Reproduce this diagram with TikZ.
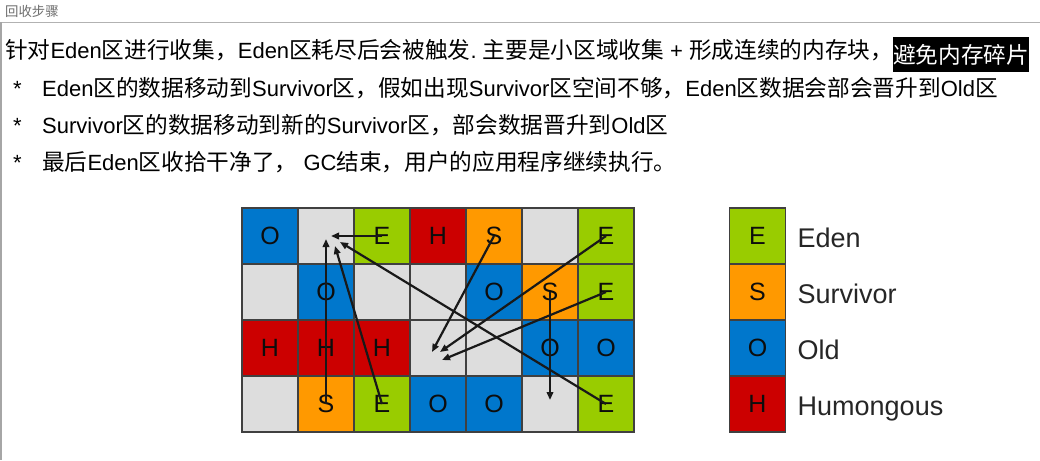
\documentclass[tikz,border=0pt]{standalone}
\usepackage{fontspec}
\setmainfont{Liberation Sans}
\newfontfamily\cjk{Noto Sans CJK SC}[Scale=1.03]
\newfontfamily\lat{Liberation Sans}
\usetikzlibrary{arrows.meta,positioning}
\definecolor{edengreen}{RGB}{153,204,0}
\definecolor{survorange}{RGB}{255,153,0}
\definecolor{oldblue}{RGB}{0,119,204}
\definecolor{humred}{RGB}{204,0,0}
\definecolor{freegray}{RGB}{221,221,221}
\definecolor{hdrgray}{RGB}{110,110,110}

\tikzset{
  kind E/.style={fill=edengreen,node contents=E},
  kind S/.style={fill=survorange,node contents=S},
  kind O/.style={fill=oldblue,node contents=O},
  kind H/.style={fill=humred,node contents=H},
  kind x/.style={fill=freegray,node contents={}},
}

\begin{document}
\begin{tikzpicture}[x=1pt,y=-1pt,
   cell/.style={draw=black!75,line width=1.3pt,minimum size=56pt,inner sep=0pt,outer sep=0pt,
                text=black!95,font=\lat\fontsize{25}{25}\selectfont},
   bodytext/.style={anchor=base west,inner sep=0pt,font=\cjk\fontsize{22}{26}\selectfont},
   legtext/.style={anchor=west,inner sep=0pt,text height=25.4pt,text depth=2pt,text=black!85,
                   font=\lat\fontsize{27}{27}\selectfont},
   mv/.style={-{Triangle[length=8pt,width=6.5pt]},line width=2.2pt,draw=black!90}]
  \path[use as bounding box,fill=white] (0,0) rectangle (1040,460);

  % page header
  \node[anchor=west,inner sep=0pt,text=hdrgray,font=\cjk\fontsize{13}{13}\selectfont] (hdr) at (5,11) {回收步骤};
  \draw[black!30,line width=1pt] (0,22.5) -- (1040,22.5);
  \draw[black!35,line width=1.5pt] (0.75,22.5) -- (0.75,460);

  % text
  \node[bodytext] (ln1) at (5,59) {针对{\lat Eden}区进行收集，{\lat Eden}区耗尽后会被触发{\lat .\ }主要是小区域收集{\lat\ +\ }形成连续的内存块，};
  \node[anchor=west,fill=black,text=white,inner sep=0pt,minimum width=135pt,minimum height=35pt,
        font=\cjk\fontsize{22}{26}\selectfont] (hl) at (893,54.5) {避免内存碎片};
  \node[bodytext] (bl2) at (13,96) {\lat *};
  \node[bodytext] (ln2) at (42,96) {{\lat Eden}区的数据移动到{\lat Survivor}区，假如出现{\lat Survivor}区空间不够，{\lat Eden}区数据会部会晋升到{\lat Old}区};
  \node[bodytext] (bl3) at (13,133) {\lat *};
  \node[bodytext] (ln3) at (42,133) {{\lat Survivor}区的数据移动到新的{\lat Survivor}区，部会数据晋升到{\lat Old}区};
  \node[bodytext] (bl4) at (13,170) {\lat *};
  \node[bodytext] (ln4) at (42,170) {最后{\lat Eden}区收拾干净了，{\lat\ GC}结束，用户的应用程序继续执行。};

  % region grid
  \foreach \row [count=\r] in {{O,x,E,H,S,x,E},{x,O,x,x,O,S,E},{H,H,H,x,x,O,O},{x,S,E,O,O,x,E}}
    \foreach \k [count=\c] in \row
      \node (c\r\c) at ({214+56*\c},{180+56*\r}) [cell,kind \k];

  % arrow targets
  \coordinate (n1a) at ([shift={(5,0)}]c12.center);
  \coordinate (n1b) at ([shift={(0,3)}]c12.center);
  \coordinate (n1c) at ([shift={(9,10)}]c12.center);
  \coordinate (n1d) at ([shift={(14,6)}]c12.center);
  \coordinate (n2a) at ([shift={(-6,4)}]c34.center);
  \coordinate (n2b) at ([shift={(2,4)}]c34.center);
  \coordinate (n2c) at ([shift={(4,12)}]c34.center);
  \coordinate (n3) at ([shift={(0,-4)}]c46.center);

  \draw[mv] (c13.center) -- (n1a);
  \draw[mv] (c42.center) -- (n1b);
  \draw[mv] (c43.center) -- (n1c);
  \draw[mv] (c47.center) -- (n1d);
  \draw[mv] (c15.center) -- (n2a);
  \draw[mv] (c17.center) -- (n2b);
  \draw[mv] (c27.center) -- (n2c);
  \draw[mv] (c26.center) -- (n3);

  % legend
  \node (lgE) at (757.5,236) [cell,kind E];
  \node (lgS) [cell,below=0pt of lgE,kind S];
  \node (lgO) [cell,below=0pt of lgS,kind O];
  \node (lgH) [cell,below=0pt of lgO,kind H];
  \node[legtext,right=12pt of lgE] (lbE) {Eden};
  \node[legtext,right=12pt of lgS] (lbS) {Survivor};
  \node[legtext,right=12pt of lgO] (lbO) {Old};
  \node[legtext,right=12pt of lgH] (lbH) {Humongous};
\end{tikzpicture}
\end{document}
